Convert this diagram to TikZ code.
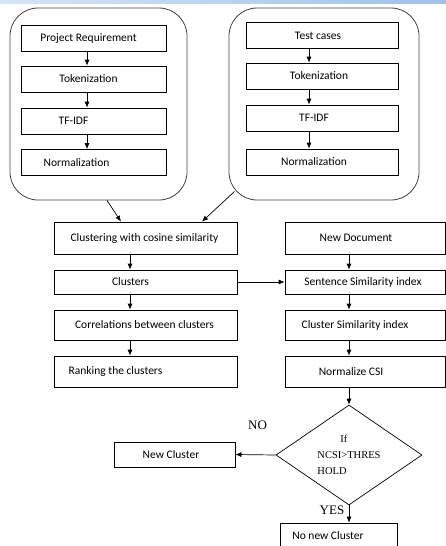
\documentclass[tikz,border=0pt]{standalone}
\usepackage{fontspec}
\setmainfont{Carlito}
\newfontfamily\timesfont{Liberation Serif}
\usetikzlibrary{shapes.geometric}
\usetikzlibrary{arrows.meta}
\definecolor{barleft}{HTML}{D6E5F7}
\definecolor{barright}{HTML}{9EC2EA}

\begin{document}
\begin{tikzpicture}[x=1pt,y=-1pt,>={Latex[length=6pt,width=5pt]},
		font=\fontsize{11.5}{14}\selectfont,
		grp/.style={draw=black!75,line width=0.8pt,rounded corners=28pt,minimum height=192pt},
		box/.style={draw,line width=0.7pt,inner sep=0pt},
		inA/.style={box,minimum width=145pt,minimum height=26pt},
		inB/.style={box,minimum width=152pt,minimum height=26pt},
		colL/.style={box,minimum width=183pt},
		colR/.style={box,minimum width=160pt},
		dec/.style={draw,line width=0.7pt,diamond,aspect=1.46,inner sep=0pt,minimum width=146pt,minimum height=100pt,align=left,font=\timesfont\fontsize{10.5}{16}\selectfont},
		arr/.style={->,line width=0.7pt},
		yesno/.style={font=\timesfont\fontsize{13}{15}\selectfont}]
		\useasboundingbox (0,0) rectangle (446,546);
		\clip (0,0) rectangle (446,546);
		\shade[left color=barleft,right color=barright] (0,0) rectangle (446,3.5);
		% two input groups
		\node[grp,minimum width=177pt] (srcA) at (98.5,104) {};
		\node[grp,minimum width=190pt] (srcB) at (324,104) {};
		\node[inA,label={[xshift=-5]center:Project Requirement}] (req) at (93.5,38.5) {};
		\node[inA,label={[xshift=-5]center:Tokenization}] (tokA) at (93.5,79) {};
		\node[inA,label={[xshift=-20]center:TF-IDF}] (tfA) at (93.5,121) {};
		\node[inA,label={[xshift=-17]center:Normalization}] (normA) at (93.5,162.5) {};
		\node[inB,label={[xshift=-4]center:Test cases}] (test) at (322,35.5) {};
		\node[inB,label={[xshift=-3]center:Tokenization}] (tokB) at (322,76) {};
		\node[inB,label={[xshift=-8]center:TF-IDF}] (tfB) at (322,118) {};
		\node[inB,label={[xshift=-8]center:Normalization}] (normB) at (322,162) {};
		\foreach \a/\b in {req/tokA,tokA/tfA,tfA/normA}
			\draw[arr] ([xshift=-6.5]\a.south) -- ([xshift=-6.5]\b.north);
		\foreach \a/\b in {test/tokB,tokB/tfB,tfB/normB}
			\draw[arr] ([xshift=-13]\a.south) -- ([xshift=-13]\b.north);
		% clustering
		\node[colL,minimum height=32pt,label={[xshift=-1]center:Clustering with cosine similarity}] (clus) at (145.5,238) {};
		\node[colL,minimum height=24pt,label={[xshift=-15]center:Clusters}] (clusters) at (145.5,282) {};
		\node[colL,minimum height=30pt,label={[xshift=-1]center:Correlations between clusters}] (corr) at (145.5,325) {};
		\node[colL,minimum height=31pt,label={[xshift=-30]center:Ranking the clusters}] (rank) at (145.5,371.5) {};
		\draw[arr] ([xshift=8.5]srcA.south) -- ([xshift=-24.5]clus.north);
		\draw[arr] ([shift={(6,-9)}]srcB.south west) -- ([xshift=56.5]clus.north);
		\foreach \a/\b in {clus/clusters,clusters/corr,corr/rank}
			\draw[arr] ([xshift=-15.5]\a.south) -- ([xshift=-15.5]\b.north);
		% new document
		\node[colR,minimum height=32pt,label={[xshift=-9]center:New Document}] (newdoc) at (365,238) {};
		\node[colR,minimum height=24pt,label={[xshift=-2]center:Sentence Similarity index}] (ssi) at (365,282) {};
		\node[colR,minimum height=30pt,label={[xshift=-10]center:Cluster Similarity index}] (csi) at (365,325) {};
		\node[colR,minimum height=31pt,label={[xshift=-14]center:Normalize CSI}] (ncsi) at (365,371.5) {};
		\foreach \a/\b in {newdoc/ssi,ssi/csi,csi/ncsi}
			\draw[arr] ([xshift=-16]\a.south) -- ([xshift=-16]\b.north);
		\draw[arr] (clusters.east) -- (ssi.west);
		% threshold test
		\node[dec] (thr) at (349,455) {\hspace*{23pt}If\\NCSI>THRES\\HOLD};
		\node[box,minimum width=121pt,minimum height=25pt,label={[xshift=-3.5]center:New Cluster}] (newc) at (174.5,454.5) {};
		\node[box,minimum width=117pt,minimum height=40pt,label={[xshift=-10.5,yshift=7]center:No new Cluster}] (nonew) at (338.5,543) {};
		\draw[arr] (ncsi.south -| thr.north) -- (thr.north);
		\draw[arr] (thr.west) -- (newc.east);
		\draw[arr] (thr.south) -- (thr.south |- nonew.north);
		\node[yesno] (no) at (257.5,425) {NO};
		\node[yesno] (yes) at (332,510) {YES};
	\end{tikzpicture}
\end{document}
